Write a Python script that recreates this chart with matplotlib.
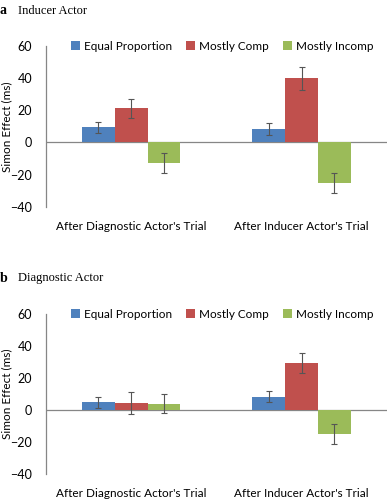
import matplotlib
matplotlib.use("Agg")
import matplotlib.pyplot as plt
import numpy as np

# Simon effect (ms) per condition, two panels
categories = ["After Diagnostic Actor's Trial", "After Inducer Actor's Trial"]
series = ["Equal Proportion", "Mostly Comp", "Mostly Incomp"]
colors = ["#4F81BD", "#C0504D", "#9BBB59"]

inducer_vals = [[9.4, 8.3], [21.2, 40.0], [-12.9, -25.4]]
inducer_err = [[3.5, 3.6], [6.0, 7.2], [6.2, 6.2]]

diagnostic_vals = [[5.0, 8.5], [4.6, 29.4], [3.9, -15.0]]
diagnostic_err = [[3.5, 3.6], [7.0, 6.4], [6.0, 6.0]]

plt.rcParams['font.family'] = ['Lato', 'DejaVu Sans']

fig = plt.figure(figsize=(3.88, 4.99), dpi=100)


def draw_panel(rect, vals, errs, letter, title, title_y):
    ax = fig.add_axes(rect)
    x = np.arange(len(categories))
    w = 0.192
    for i, name in enumerate(series):
        ax.bar(x + (i - 1) * w, vals[i], w, color=colors[i], label=name,
               yerr=errs[i], error_kw=dict(ecolor='#555555', elinewidth=0.8,
                                           capsize=2.2, capthick=0.8))
    ax.axhline(0, color='#868686', lw=0.9, zorder=0.5)
    ax.set_xlim(-0.5, 1.5)
    ax.set_ylim(-40, 60)
    ax.set_yticks([-40, -20, 0, 20, 40, 60])
    ax.set_xticks(x)
    ax.set_xticklabels(categories, fontsize=8.5)
    ax.tick_params(axis='x', length=0, labelsize=8.5, pad=10)
    ax.tick_params(axis='y', length=0, labelsize=9, pad=10)
    for s in ['top', 'right', 'bottom']:
        ax.spines[s].set_visible(False)
    ax.spines['left'].set_color('#868686')
    ax.spines['left'].set_linewidth(0.9)
    ax.set_ylabel('Simon Effect (ms)', fontsize=8.5)
    ax.yaxis.set_label_coords(-0.098, 0.5)
    ax.legend(loc='center left', bbox_to_anchor=(0.06, 1.0), ncol=3,
              frameon=False, fontsize=8.5, handlelength=0.75, handleheight=0.75,
              handletextpad=0.35, columnspacing=1.2, borderaxespad=0)
    fig.text(0.0, title_y, letter, fontsize=10, fontweight='bold',
             family='Liberation Serif', va='center')
    fig.text(0.047, title_y, title, fontsize=9, family='Liberation Serif',
             va='center')
    return ax


draw_panel([0.1186, 0.5858, 0.878, 0.322], inducer_vals, inducer_err,
           'a', 'Inducer Actor', 1 - 11 / 499)
draw_panel([0.1186, 0.0501, 0.878, 0.320], diagnostic_vals, diagnostic_err,
           'b', 'Diagnostic Actor', 1 - 278 / 499)

fig.savefig('out.png', dpi=100)
